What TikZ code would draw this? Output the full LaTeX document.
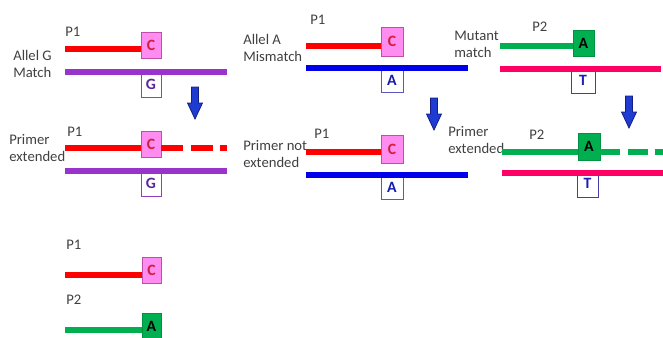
\documentclass[tikz,border=0pt]{standalone}
\usepackage{fontspec}
\setmainfont{Carlito}
\usepackage{tikz}
\usetikzlibrary{positioning}
\definecolor{PrimerRed}{RGB}{255,0,0}
\definecolor{BoxPink}{RGB}{255,140,240}
\definecolor{BoxPinkEdge}{RGB}{190,80,170}
\definecolor{BaseC}{RGB}{210,30,60}
\definecolor{AlleleG}{RGB}{153,51,204}
\definecolor{GEdge}{RGB}{150,60,190}
\definecolor{GText}{RGB}{90,40,150}
\definecolor{AlleleA}{RGB}{0,0,235}
\definecolor{AEdge}{RGB}{90,90,190}
\definecolor{AText}{RGB}{20,30,170}
\definecolor{MutGreen}{RGB}{0,176,80}
\definecolor{MutGreenEdge}{RGB}{0,145,65}
\definecolor{TStrand}{RGB}{255,0,100}
\definecolor{TEdge}{RGB}{70,60,170}
\definecolor{TText}{RGB}{30,30,180}
\definecolor{ArrowFill}{RGB}{30,60,210}
\definecolor{ArrowEdge}{RGB}{20,30,130}
\definecolor{TextGrey}{RGB}{64,64,64}

\begin{document}
\begin{tikzpicture}[x=0.75pt, y=-0.75pt,
    txt/.style={align=left, anchor=west, inner sep=0pt, text=TextGrey,
        font=\fontsize{11}{12.75}\selectfont},
    strand/.style={line width=4.5pt},
    basebox/.style={inner sep=0pt, minimum width=15pt, minimum height=19.5pt,
        font=\fontsize{11.8}{12}\selectfont\bfseries},
    cbox/.style={basebox, draw=BoxPinkEdge, fill=BoxPink, text=BaseC},
    gbox/.style={basebox, draw=GEdge, fill=white, text=GText},
    abox/.style={basebox, draw=AEdge, fill=white, text=AText},
    mbox/.style={basebox, draw=MutGreenEdge, fill=MutGreen, text=black},
    tbox/.style={basebox, draw=TEdge, fill=white, text=TText},
    blockarrow/.style={fill=ArrowFill, draw=ArrowEdge, line width=0.6pt}]
    \useasboundingbox (0,0) rectangle (663,337);
    \clip (0,0) rectangle (663,337);

    % Allel G match
    \node [txt] (p1a) at (65,32) {P1};
    \node [txt] (lblG) at (13,63.5) {Allel G\\Match};
    \node [cbox] (c1) at (151,45) {C};
    \node [gbox] (g1) at (151,84) {G};
    \draw [strand, PrimerRed] (65,49) -- (c1.west |- 0,49);
    \draw [strand, AlleleG] (65,71.5) -- (227,71.5);
    \filldraw [blockarrow, shift={(195,87)}] (-3.5,0) -- (3.5,0) -- (3.5,16) -- (7.5,16) -- (0,32) -- (-7.5,16) -- (-3.5,16) -- cycle;

    \node [txt] (p1b) at (67,132) {P1};
    \node [txt] (lblGext) at (9,148) {Primer\\extended};
    \node [cbox] (c2) at (151,144) {C};
    \node [gbox] (g2) at (151,183) {G};
    \draw [strand, PrimerRed] (65,148) -- (c2.west |- 0,148);
    \draw [strand, PrimerRed, dash pattern=on 16.5pt off 5.5pt] (c2.east |- 0,148) -- (227,148);
    \draw [strand, AlleleG] (65,170.5) -- (227,170.5);

    % Allel A mismatch
    \node [txt] (p1c) at (310,20) {P1};
    \node [txt] (lblA) at (243,48) {Allel A\\Mismatch};
    \node [cbox, minimum width=16.5pt, minimum height=21.5pt] (c3) at (392,41.5) {C};
    \node [abox, minimum width=16.5pt, minimum height=18pt] (a1) at (392,80) {A};
    \draw [strand, PrimerRed] (306,46) -- (c3.west |- 0,46);
    \draw [strand, AlleleA] (306,68) -- (468,68);
    \filldraw [blockarrow, shift={(434,98)}] (-3.5,0) -- (3.5,0) -- (3.5,16) -- (7.5,16) -- (0,32) -- (-7.5,16) -- (-3.5,16) -- cycle;

    \node [txt] (p1d) at (314,134) {P1};
    \node [txt] (lblAnot) at (243,154) {Primer not\\extended};
    \node [cbox, minimum width=16.5pt, minimum height=21pt] (c4) at (392,149) {C};
    \node [abox, minimum width=16.5pt, minimum height=18pt] (a2) at (392,187) {A};
    \draw [strand, PrimerRed] (306,152) -- (c4.west |- 0,152);
    \draw [strand, AlleleA] (306,175) -- (468,175);

    % Mutant match
    \node [txt] (p2a) at (532,27) {P2};
    \node [txt] (lblM) at (454,44) {Mutant\\match};
    \node [mbox, minimum width=15.75pt] (m1) at (583.5,43) {A};
    \node [tbox, minimum width=18pt] (t1) at (583,80) {T};
    \draw [strand, MutGreen] (500,46) -- (m1.west |- 0,46);
    \draw [strand, TStrand] (500,69) -- (661,69);
    \filldraw [blockarrow, shift={(629,96)}] (-3.5,0) -- (3.5,0) -- (3.5,16) -- (7.5,16) -- (0,32) -- (-7.5,16) -- (-3.5,16) -- cycle;

    \node [txt] (p2b) at (529,135) {P2};
    \node [txt] (lblMext) at (448,140) {Primer\\extended};
    \node [mbox, minimum width=16.5pt, minimum height=20pt] (m2) at (589,146.5) {A};
    \node [tbox, minimum width=15.75pt, minimum height=20pt] (t2) at (587.5,183.5) {T};
    \draw [strand, MutGreen] (502,152) -- (m2.west |- 0,152);
    \draw [strand, MutGreen, dash pattern=on 15pt off 5.6pt] (m2.east |- 0,152) -- (663,152);
    \draw [strand, TStrand] (502,173) -- (663,173);

    % Both primers
    \node [txt] (p1e) at (66,245) {P1};
    \node [cbox, minimum width=14.25pt] (c5) at (151.5,270) {C};
    \draw [strand, PrimerRed] (65,274.5) -- (c5.west |- 0,274.5);
    \node [txt] (p2c) at (66,300) {P2};
    \node [mbox, minimum width=14.25pt] (m3) at (151.5,326) {A};
    \draw [strand, MutGreen] (65,330) -- (m3.west |- 0,330);
\end{tikzpicture}
\end{document}
